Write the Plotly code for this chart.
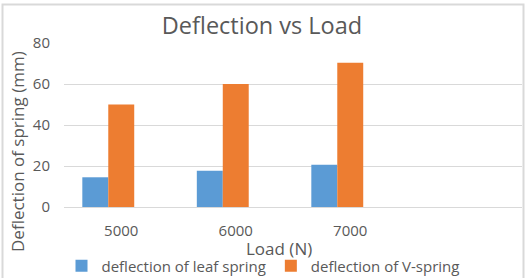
import plotly.graph_objects as go

categories = ["5000", "6000", "7000"]
leaf_spring = [14.5, 17.7, 20.6]
v_spring = [50, 60, 70.4]
empty_series = [None, None, None]
y_ticks = [0, 20, 40, 60, 80]

TXT = "#595959"
FONT = "Open Sans"

fig = go.Figure()
fig.add_trace(go.Bar(x=categories, y=leaf_spring, name="deflection of leaf spring",
                     marker=dict(color="#5B9BD5", line=dict(width=0))))
fig.add_trace(go.Bar(x=categories, y=v_spring, name="deflection of V-spring",
                     marker=dict(color="#ED7D31", line=dict(width=0))))
fig.add_trace(go.Bar(x=categories, y=empty_series, name="", showlegend=False,
                     marker=dict(color="#A5A5A5")))

W, H = 531, 278
L, R, T, B = 64, 9, 43, 71
ph = H - T - B

def py(pix):
    return (H - B - pix) / ph

def px(pix):
    return (pix - L) / (W - L - R)

fig.update_layout(
    width=W, height=H,
    margin=dict(l=L, r=R, t=T, b=B, autoexpand=False),
    paper_bgcolor="white", plot_bgcolor="white",
    barmode="group", bargap=0.32, bargroupgap=0,
    font=dict(family=FONT, color=TXT, size=14),
    title=dict(text="Deflection vs Load", x=262 / W, xanchor="center",
               xref="container", yref="container", y=1 - 26 / H, yanchor="middle",
               font=dict(size=23.5, color=TXT, family=FONT)),
    xaxis=dict(type="category", range=[-0.5, 3.5], showgrid=False,
               showline=False, zeroline=False,
               ticks="outside", ticklen=10, tickcolor="rgba(0,0,0,0)",
               tickfont=dict(size=15, color=TXT)),
    yaxis=dict(range=[0, 80], tickvals=y_ticks, showgrid=True,
               gridcolor="#D9D9D9", gridwidth=1, zeroline=True,
               zerolinecolor="#D9D9D9", zerolinewidth=1,
               ticks="outside", ticklen=10, tickcolor="rgba(0,0,0,0)",
               tickfont=dict(size=15, color=TXT)),
    showlegend=True,
    legend=dict(orientation="h", x=263 / W, xanchor="center", xref="container",
                yref="container", y=1 - 266 / H, yanchor="middle",
                font=dict(size=15, color=TXT),
                itemwidth=30, tracegroupgap=0, bgcolor="rgba(0,0,0,0)"),
    annotations=[
        dict(text="Deflection of spring (mm)", x=px(17), y=py(152),
             xref="paper", yref="paper", textangle=-90, showarrow=False,
             xanchor="center", yanchor="middle",
             font=dict(size=17, color=TXT, family=FONT)),
        dict(text="Load (N)", x=px(279), y=py(248), xref="paper", yref="paper",
             showarrow=False, xanchor="center", yanchor="middle",
             font=dict(size=17, color=TXT, family=FONT)),
    ],
    shapes=[dict(type="rect", xref="paper", yref="paper",
                 x0=px(2.5), x1=px(523.5), y0=py(300), y1=py(4.5),
                 line=dict(color="#D9D9D9", width=2), fillcolor="rgba(0,0,0,0)",
                 layer="below")],
)

fig.write_html("out.html")
